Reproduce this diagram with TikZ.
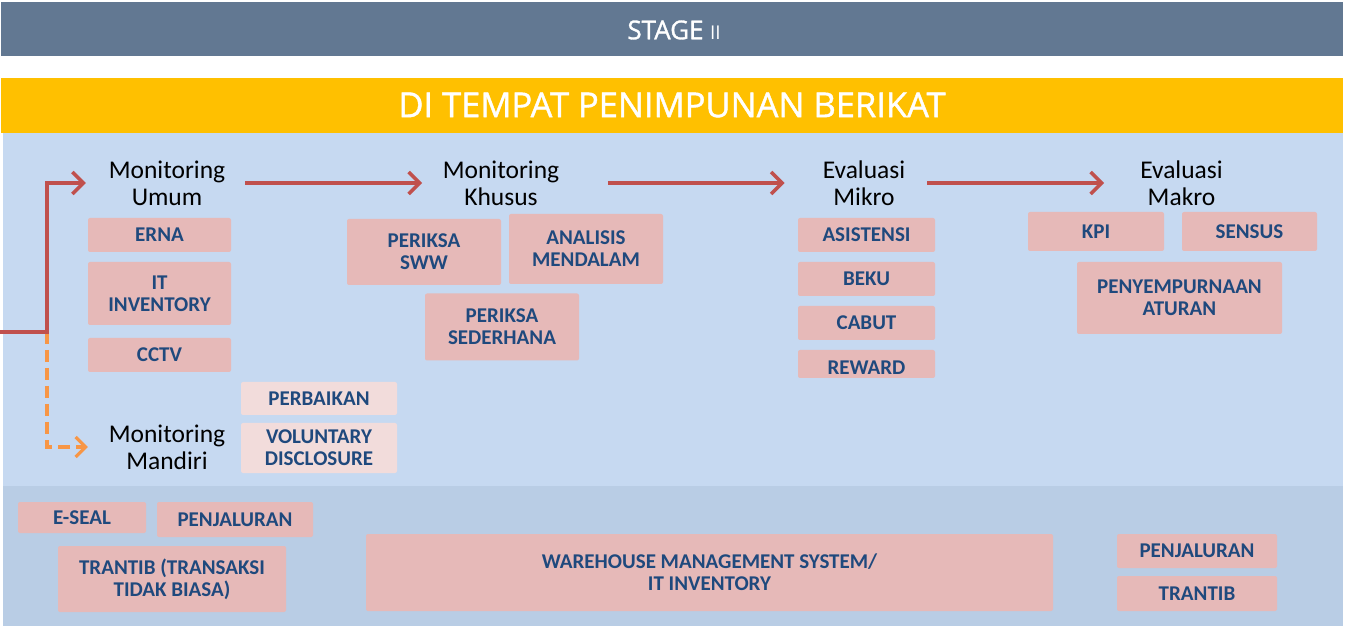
\documentclass[tikz,border=0pt]{standalone}
\usepackage{fontspec}
\setmainfont{Carlito}
\newfontfamily\osans{Open Sans}
\newfontfamily\osanssemi{Open Sans}[FakeBold=1.2]
\usetikzlibrary{arrows.meta}
\definecolor{slatebar}{HTML}{627892}
\definecolor{titleyellow}{HTML}{FFC000}
\definecolor{lblue}{HTML}{C6D9F1}
\definecolor{dblue}{HTML}{B9CDE5}
\definecolor{pinkbox}{HTML}{E6B9B8}
\definecolor{lpink}{HTML}{F2DCDB}
\definecolor{boxtext}{HTML}{1F497D}
\definecolor{redarr}{HTML}{C0504D}
\definecolor{orarr}{HTML}{F79646}
\tikzset{
  pbox/.style={fill=pinkbox, rounded corners=2pt, inner sep=0pt, align=center,
    text=boxtext, font=\fontsize{21}{22}\selectfont\bfseries},
  lpbox/.style={pbox, fill=lpink},
  bx/.style 2 args={minimum width=#1, minimum height=#2},
  head/.style={inner sep=0pt, align=center, font=\fontsize{25.5}{27}\selectfont},
  redline/.style={draw=redarr, line width=3.5pt,
    -{Straight Barb[length=11pt,width=22pt,line width=3.5pt]}},
  orline/.style={draw=orarr, line width=3.2pt, dash pattern=on 12pt off 6pt,
    -{Straight Barb[length=10pt,width=20pt,line width=3.2pt]}}
}
\begin{document}
\begin{tikzpicture}[x=1pt,y=-1pt]
\useasboundingbox (0,0) rectangle (1345,628);
% bands
\fill[white] (0,0) rectangle (1345,628);
\fill[slatebar] (1,2) rectangle (1343,56);
\node[text=white, font=\osanssemi\fontsize{26}{28}\selectfont] (stage) at (674,30) {STAGE\hspace{0.25em}{\osans\fontsize{19}{20}\selectfont II}};
\fill[titleyellow] (1,78) rectangle (1343,133);
\node[text=white, font=\osanssemi\fontsize{34.5}{40}\selectfont] (title) at (672,105) {DI TEMPAT PENIMPUNAN BERIKAT};
\fill[lblue] (3,133) rectangle (1343,486);
\fill[dblue] (3,486) rectangle (1343,626);
% headings
\node[head, minimum width=117pt] (umum) at (167,183) {Monitoring\\Umum};
\node[head, minimum width=115pt] (khusus) at (501,183) {Monitoring\\Khusus};
\node[head, minimum width=82pt] (mikro) at (864,183) {Evaluasi\\Mikro};
\node[head, minimum width=81pt] (makro) at (1181.5,183) {Evaluasi\\Makro};
\node[head, minimum width=117pt] (mandiri) at (167,447) {Monitoring\\Mandiri};
% boxes
\node[pbox, bx={143pt}{34pt}] (erna) at (159.5,235) {ERNA};
\node[pbox, bx={143pt}{63pt}] (itinv) at (159.5,293.5) {IT\\INVENTORY};
\node[pbox, bx={143pt}{34pt}] (cctv) at (159.5,355) {CCTV};
\node[lpbox, bx={156pt}{33pt}] (perbaikan) at (319,398.5) {PERBAIKAN};
\node[lpbox, bx={156pt}{50pt}] (voluntary) at (319,448) {VOLUNTARY\\DISCLOSURE};
\node[pbox, bx={154pt}{66pt}] (sww) at (424,252) {PERIKSA\\SWW};
\node[pbox, bx={154pt}{70pt}] (analisis) at (586,249) {ANALISIS\\MENDALAM};
\node[pbox, bx={154pt}{67pt}] (sederhana) at (502,327) {PERIKSA\\SEDERHANA};
\node[pbox, bx={137pt}{34pt}] (asistensi) at (866.5,235) {ASISTENSI};
\node[pbox, bx={137pt}{34pt}] (beku) at (866.5,279) {BEKU};
\node[pbox, bx={137pt}{34pt}] (cabut) at (866.5,323) {CABUT};
\node[pbox, bx={137pt}{28pt}, text height=21pt, text depth=0pt] (reward) at (866.5,364) {REWARD};
\node[pbox, bx={136pt}{39pt}] (kpi) at (1096,231.5) {KPI};
\node[pbox, bx={135pt}{39pt}] (sensus) at (1249.5,231.5) {SENSUS};
\node[pbox, bx={205pt}{72pt}] (aturan) at (1179.5,298) {PENYEMPURNAAN\\ATURAN};
\node[pbox, bx={128pt}{31pt}] (eseal) at (82,517.5) {E-SEAL};
\node[pbox, bx={156pt}{35pt}] (penj1) at (235,519.5) {PENJALURAN};
\node[pbox, bx={228pt}{66pt}] (trantib1) at (172,579) {TRANTIB (TRANSAKSI\\TIDAK BIASA)};
\node[pbox, bx={687pt}{77pt}] (wms) at (709.5,572.5) {WAREHOUSE MANAGEMENT SYSTEM/\\IT INVENTORY};
\node[pbox, bx={160pt}{34pt}] (penj2) at (1197,551) {PENJALURAN};
\node[pbox, bx={160pt}{35pt}] (trantib2) at (1197,593.5) {TRANTIB};
% connectors
\coordinate (src) at (0,332);
\coordinate (junc) at (47,332);
\draw[orline, shorten >=20.5pt] (junc) |- (mandiri.west);
\draw[redline, shorten >=22.5pt, line join=miter] (src) -- (junc) |- (umum.west);
\draw[redline, shorten <=19.5pt, shorten >=20.5pt] (umum.east) -- (khusus.west);
\draw[redline, shorten <=48.5pt, shorten >=38pt] (khusus.east) -- (mikro.west);
\draw[redline, shorten <=22pt, shorten >=36pt] (mikro.east) -- (makro.west);
\end{tikzpicture}
\end{document}
